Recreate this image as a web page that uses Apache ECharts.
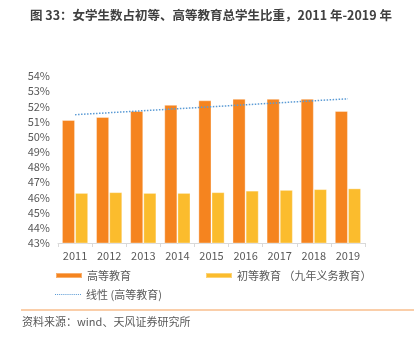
<!DOCTYPE html>
<html>
<head>
<meta charset="utf-8">
<script src="https://cdn.jsdelivr.net/npm/echarts@6/dist/echarts.min.js"></script>
<style>
  html, body { margin: 0; padding: 0; background: #fff; }
  #chart { width: 418px; height: 338px; }
</style>
</head>
<body>
<div id="chart"></div>
<script>
// Years on the category axis
const years = ['2011', '2012', '2013', '2014', '2015', '2016', '2017', '2018', '2019'];
// Share of female students (%)
const higherEdu = [51.1, 51.3, 51.7, 52.1, 52.4, 52.5, 52.5, 52.5, 51.7];
const primaryEdu = [46.3, 46.35, 46.3, 46.3, 46.35, 46.45, 46.5, 46.55, 46.6];
// Linear trend of higher education share: [category index, value] at both ends
const trendHigher = [[0, 51.45], [8, 52.5]];
// Value axis range and tick step (%)
const yMin = 43, yMax = 54, yStep = 1;

const grey = '#595959';
const font = '"Noto Sans CJK SC", "Noto Sans", sans-serif';

// Dotted-line legend glyph: 13 short dashes
let dots = '';
for (let i = 0; i < 13; i++) dots += 'M' + (i * 2) + ',0h1v1h-1z';
const dottedIcon = 'path://' + dots;

const legendText = { fontFamily: font, fontSize: 11, color: grey };

const chart = echarts.init(document.getElementById('chart'), null, { renderer: 'canvas' });
chart.setOption({
  animation: false,
  title: {
    text: '图 33：女学生数占初等、高等教育总学生比重，2011 年-2019 年',
    left: 30, top: 9, padding: 0,
    textStyle: { fontFamily: font, fontSize: 12.5, fontWeight: 'bold', color: '#404040' }
  },
  grid: { left: 58, right: 53, top: 76, bottom: 95 },
  legend: [
    {
      data: ['高等教育'], left: 55, top: 270, padding: 0, icon: 'rect',
      itemWidth: 26, itemHeight: 5,
      textStyle: legendText
    },
    {
      data: ['初等教育 （九年义务教育）'], left: 205, top: 270, padding: 0, icon: 'rect',
      itemWidth: 26, itemHeight: 5,
      textStyle: legendText
    },
    {
      data: [{ name: '线性 (高等教育)', icon: dottedIcon }], left: 55, top: 289, padding: 0,
      itemWidth: 26, itemHeight: 1.5,
      textStyle: legendText
    }
  ],
  xAxis: {
    type: 'category',
    data: years,
    axisLine: { lineStyle: { color: '#D9D9D9', width: 1 } },
    axisTick: { show: true, length: 4, lineStyle: { color: '#D9D9D9' } },
    axisLabel: { fontFamily: font, fontSize: 11, color: grey, margin: 7 }
  },
  yAxis: {
    type: 'value',
    min: yMin, max: yMax, interval: yStep,
    axisLine: { show: false },
    axisTick: { show: false },
    splitLine: { show: false },
    axisLabel: { fontFamily: font, fontSize: 11, color: grey, margin: 8, formatter: v => v + '%' }
  },
  series: [
    {
      name: '高等教育',
      type: 'bar',
      data: higherEdu,
      barGap: '0%',
      barCategoryGap: '23%',
      itemStyle: { color: '#F5841F', borderColor: 'rgba(255,255,255,0.35)', borderWidth: 1 }
    },
    {
      name: '初等教育 （九年义务教育）',
      type: 'bar',
      data: primaryEdu,
      itemStyle: { color: '#FBBC2D', borderColor: 'rgba(255,255,255,0.35)', borderWidth: 1 }
    },
    {
      name: '线性 (高等教育)',
      type: 'line',
      data: trendHigher,
      symbol: 'none',
      z: 5,
      lineStyle: { color: '#5B9BD5', width: 1.5, type: [1.5, 1.5] },
      itemStyle: { color: '#5B9BD5' }
    }
  ],
  graphic: [
    {
      type: 'line',
      shape: { x1: 21, y1: 310, x2: 414, y2: 310 },
      style: { stroke: '#F9BE8C', lineWidth: 1.5 }
    },
    {
      type: 'text',
      left: 22, top: 316,
      style: { text: '资料来源：wind、天风证券研究所', fontFamily: font, fontSize: 11, fill: grey }
    }
  ]
});
</script>
</body>
</html>
